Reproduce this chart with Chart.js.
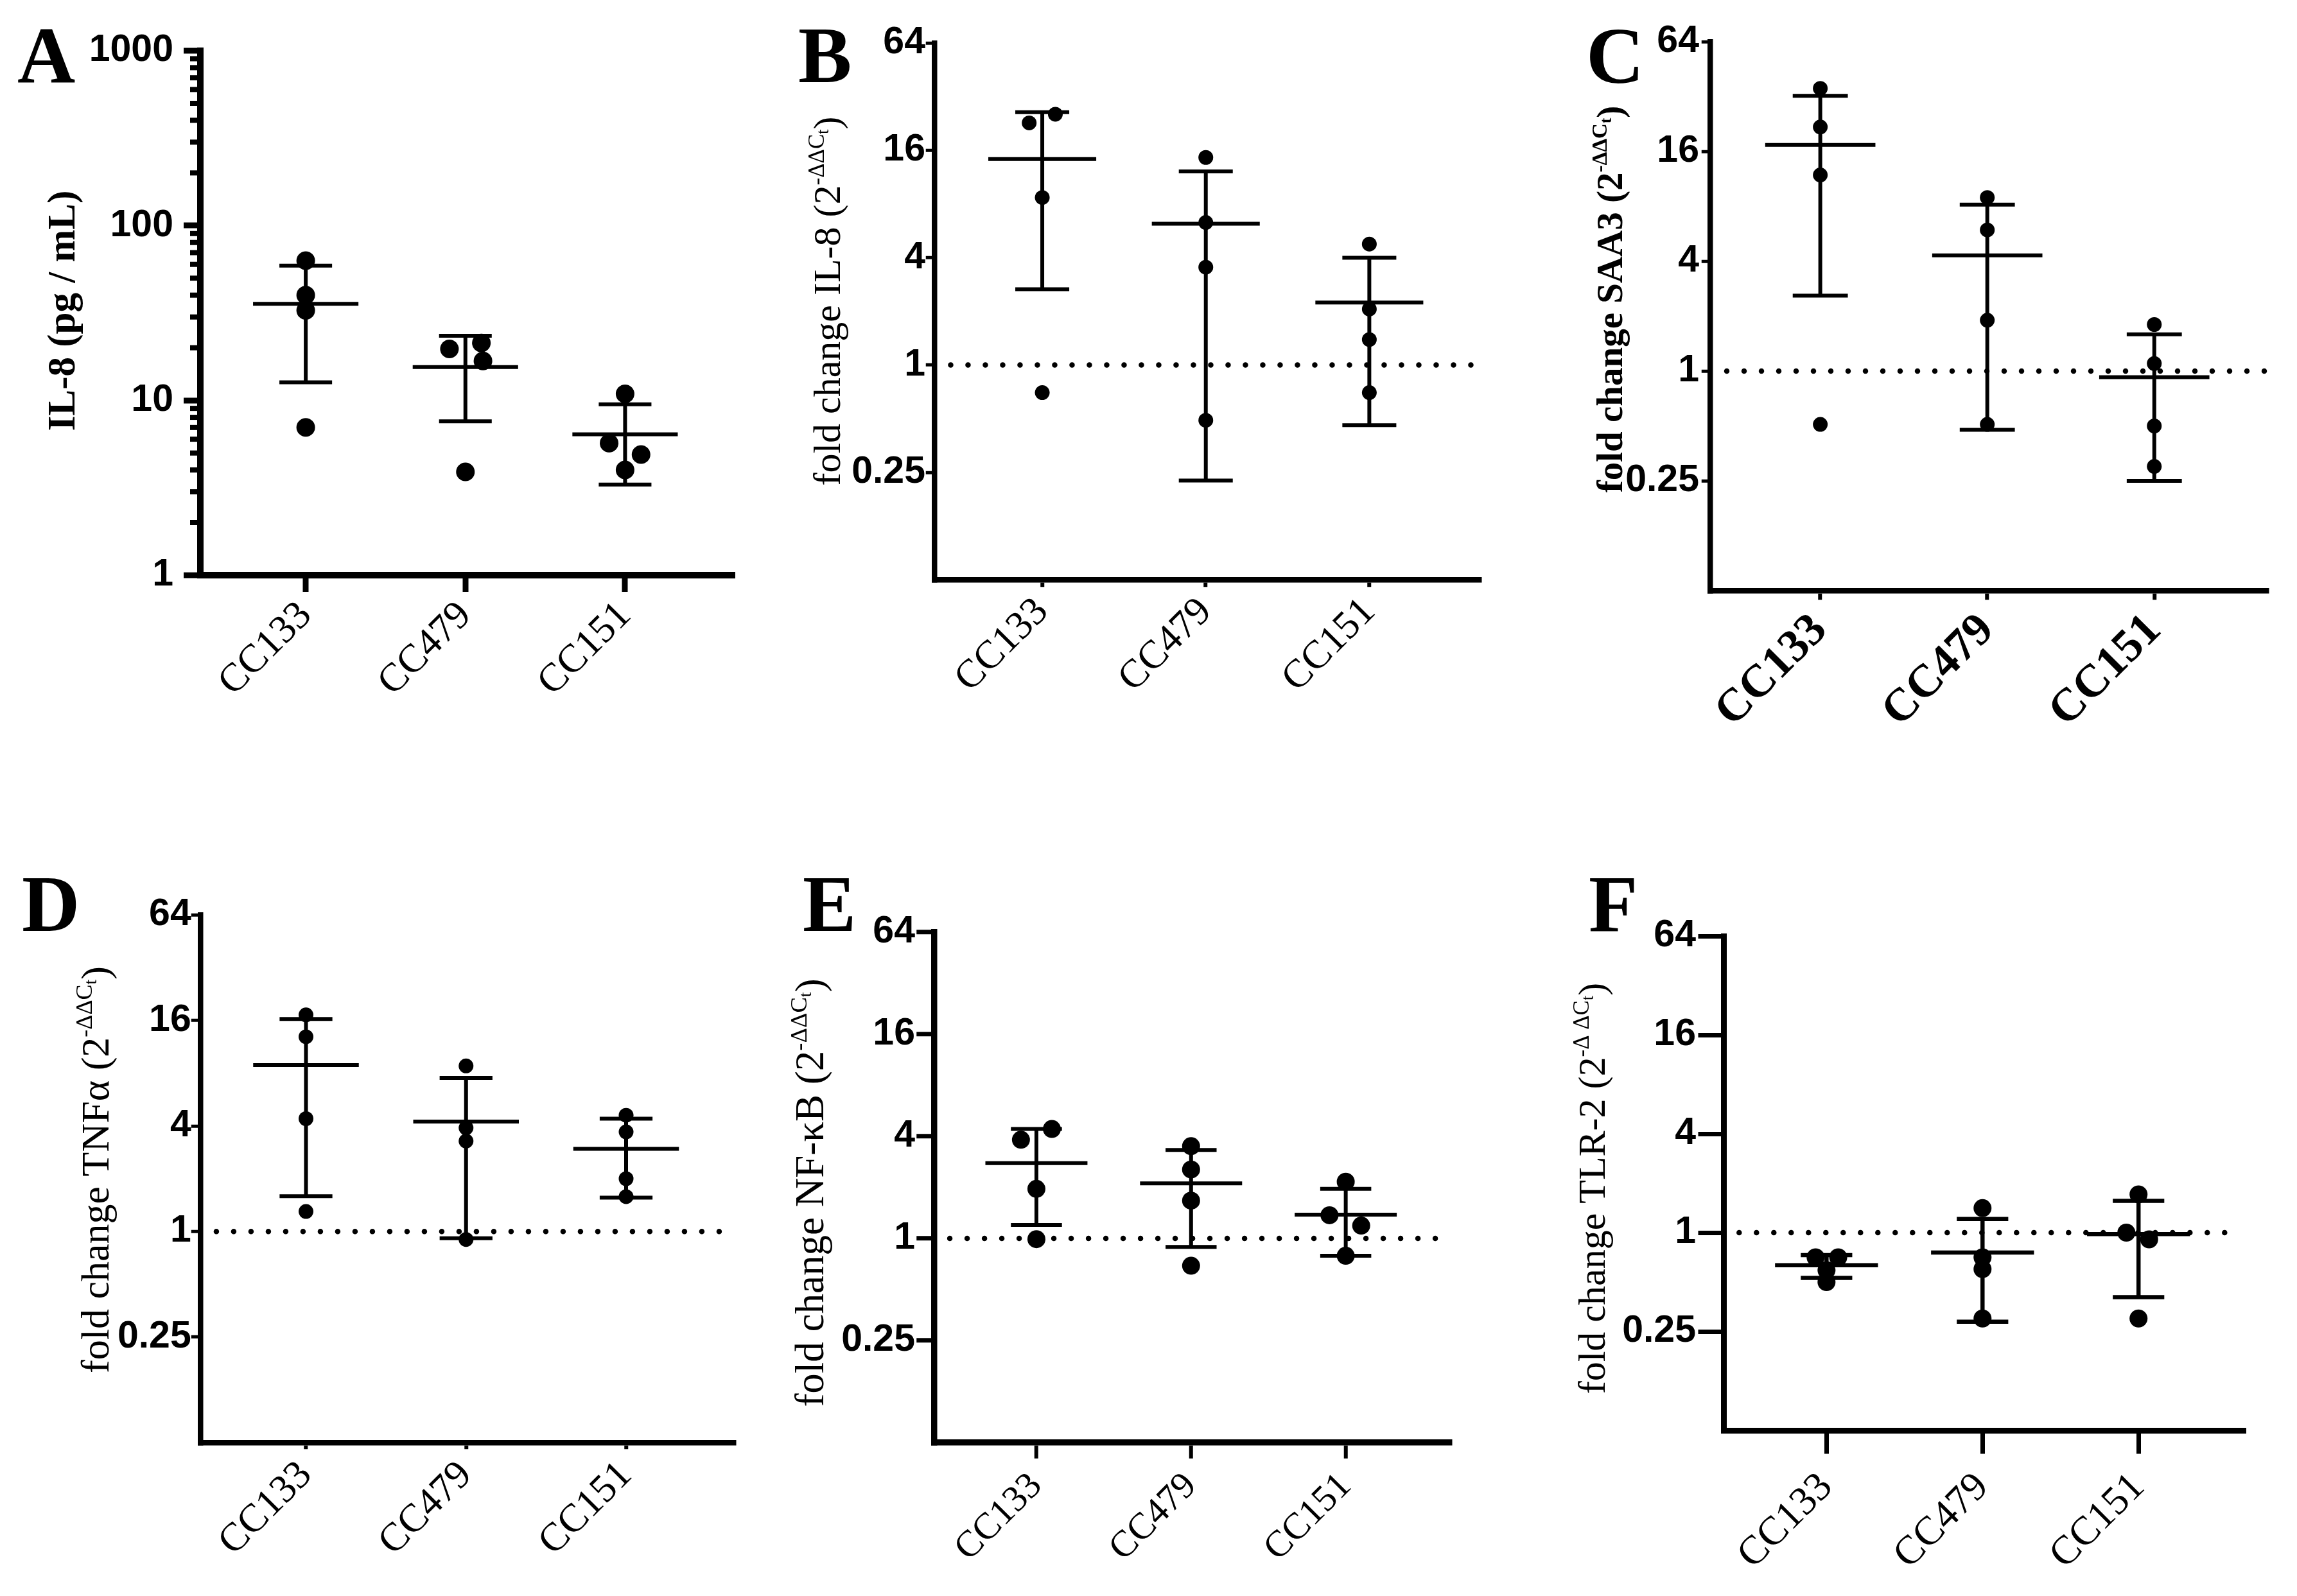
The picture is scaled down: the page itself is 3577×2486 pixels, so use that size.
<!DOCTYPE html>
<html>
<head>
<meta charset="utf-8">
<script src="https://cdn.jsdelivr.net/npm/chart.js@4.4.1/dist/chart.umd.min.js"></script>
<style>
  html, body { margin: 0; padding: 0; background: #fff; }
  #figure { position: relative; width: 3577px; height: 2486px; background: #fff; overflow: hidden; }
  #figure canvas { position: absolute; }
</style>
</head>
<body>
<div id="figure"></div>
<script>
// groups, same in every panel
const categories = ['CC133', 'CC479', 'CC151'];

// A: IL-8 protein, pg/mL (4 replicates per group)
const il8Protein = [[63, 40, 32.7, 7.0], [19.7, 21.3, 16.8, 3.9], [10.9, 5.7, 4.9, 4.0]];
const il8ProteinMean = [35.7, 15.5, 6.4];
const il8ProteinUpper = [59, 23.4, 9.5];
const il8ProteinLower = [12.7, 7.6, 3.3];

// B: IL-8 fold change
const il8Fold = [[22.8, 25.5, 8.7, 0.70], [14.6, 6.3, 3.54, 0.49], [4.77, 2.06, 1.39, 0.70]];
const il8FoldMean = [14.3, 6.2, 2.24];
const il8FoldUpper = [26.2, 12.2, 4.0];
const il8FoldLower = [2.66, 0.225, 0.46];

// C: SAA3 fold change
const saa3Fold = [[35.5, 21.8, 11.9, 0.51], [8.95, 5.94, 1.90, 0.51], [1.80, 1.10, 0.50, 0.30]];
const saa3FoldMean = [17.4, 4.31, 0.926];
const saa3FoldUpper = [32.3, 8.18, 1.59];
const saa3FoldLower = [2.59, 0.476, 0.25];

// D: TNFa fold change
const tnfFold = [[17.2, 12.9, 4.4, 1.30], [8.8, 3.9, 3.28, 0.90], [4.6, 3.7, 2.0, 1.58]];
const tnfFoldMean = [8.9, 4.24, 2.96];
const tnfFoldUpper = [16.3, 7.52, 4.4];
const tnfFoldLower = [1.59, 0.915, 1.56];

// E: NF-kB fold change
const nfkbFold = [[3.82, 4.42, 1.96, 0.99], [3.5, 2.55, 1.67, 0.69], [2.16, 1.37, 1.19, 0.79]];
const nfkbFoldMean = [2.78, 2.11, 1.38];
const nfkbFoldUpper = [4.42, 3.32, 1.96];
const nfkbFoldLower = [1.2, 0.89, 0.79];

// F: TLR-2 fold change
const tlr2Fold = [[0.707, 0.707, 0.59, 0.50], [1.41, 0.707, 0.60, 0.30], [1.71, 1.0, 0.91, 0.30]];
const tlr2FoldMean = [0.633, 0.757, 0.98];
const tlr2FoldUpper = [0.73, 1.21, 1.56];
const tlr2FoldLower = [0.53, 0.287, 0.405];

// axis ticks
const proteinTicks = [1, 10, 100, 1000];
const proteinTickLabels = ['1', '10', '100', '1000'];
const proteinMinorTicks = [2, 3, 4, 5, 6, 7, 8, 9, 20, 30, 40, 50, 60, 70, 80, 90, 200, 300, 400, 500, 600, 700, 800, 900];
const foldTicks = [0.25, 1, 4, 16, 64];
const foldTickLabels = ['0.25', '1', '4', '16', '64'];
const foldBaseline = 1;

const serif = '"Liberation Serif", "Times New Roman", serif';
const sans = '"Liberation Sans", Arial, sans-serif';
const MEAN_HALF = 0.33;
const CAP_HALF = 0.165;

const sup = (main) => [[main, 1, 0], ['-\u0394\u0394C', 0.58, 0.42], ['t', 0.45, 0.3], [')', 1, 0]];

const panels = [
  {
    letter: 'A', letterPos: [27, 128],
    rect: { x: 0, y: 0, w: 1200, h: 1243 }, plot: { l: 312, r: 1140, t: 79, b: 896 },
    yMin: 1, yMax: 1000, ticks: proteinTicks, tickLabels: proteinTickLabels, minor: proteinMinorTicks,
    values: il8Protein, mean: il8ProteinMean, upper: il8ProteinUpper, lower: il8ProteinLower, baseline: false,
    jitter: [[0, 0, 0, 0], [-0.1, 0.1, 0.11, 0], [0, -0.1, 0.1, 0]],
    border: 10, yTick: { len: 21, width: 9 }, yLabelGap: 42, xTick: { len: 21, width: 9 }, xLabelDrop: 27,
    radius: 14.5, barWidth: 6, catFont: { size: 62, weight: 'normal' },
    title: { x: 116, y: 484, size: 61, bold: true, parts: [['IL-8 (pg / mL)', 1, 0]] }
  },
  {
    letter: 'B', letterPos: [1243, 128],
    rect: { x: 1200, y: 0, w: 1200, h: 1243 }, plot: { l: 1455, r: 2303, t: 67, b: 903 },
    yMin: 0.0625, yMax: 64, ticks: foldTicks, tickLabels: foldTickLabels,
    values: il8Fold, mean: il8FoldMean, upper: il8FoldUpper, lower: il8FoldLower, baseline: true,
    jitter: [[-0.08, 0.08, 0, 0], [0, 0, 0, 0], [0, 0, 0, 0]],
    border: 8.5, yTick: { len: 9, width: 5 }, yLabelGap: 14, xTick: { len: 7, width: 6 }, xLabelDrop: 14,
    radius: 11.5, barWidth: 6, catFont: { size: 62, weight: 'normal' },
    title: { x: 1308, y: 469, size: 60, bold: false, parts: sup('fold change IL-8 (2') }
  },
  {
    letter: 'C', letterPos: [2470, 129],
    rect: { x: 2400, y: 0, w: 1177, h: 1243 }, plot: { l: 2663, r: 3529, t: 65, b: 920 },
    yMin: 0.0625, yMax: 64, ticks: foldTicks, tickLabels: foldTickLabels,
    values: saa3Fold, mean: saa3FoldMean, upper: saa3FoldUpper, lower: saa3FoldLower, baseline: true,
    jitter: [[0, 0, 0, 0], [0, 0, 0, 0], [0, 0, 0, 0]],
    border: 8.5, yTick: { len: 9, width: 5 }, yLabelGap: 17, xTick: { len: 10, width: 6 }, xLabelDrop: 20,
    radius: 11.5, barWidth: 6, catFont: { size: 72, weight: 'bold' },
    title: { x: 2526, y: 466, size: 57, bold: true, parts: sup('fold change SAA3 (2') }
  },
  {
    letter: 'D', letterPos: [34, 1450],
    rect: { x: 0, y: 1243, w: 1200, h: 1243 }, plot: { l: 312, r: 1142, t: 1425, b: 2247 },
    yMin: 0.0625, yMax: 64, ticks: foldTicks, tickLabels: foldTickLabels,
    values: tnfFold, mean: tnfFoldMean, upper: tnfFoldUpper, lower: tnfFoldLower, baseline: true,
    jitter: [[0, 0, 0, 0], [0, 0, 0, 0], [0, 0, 0, 0]],
    border: 8.5, yTick: { len: 10, width: 5 }, yLabelGap: 14, xTick: { len: 6, width: 6 }, xLabelDrop: 15,
    radius: 11.5, barWidth: 6, catFont: { size: 62, weight: 'normal' },
    title: { x: 169, y: 1822, size: 62, bold: false, parts: sup('fold change TNF\u03b1 (2') }
  },
  {
    letter: 'E', letterPos: [1250, 1450],
    rect: { x: 1200, y: 1243, w: 1200, h: 1243 }, plot: { l: 1455, r: 2257, t: 1452, b: 2247 },
    yMin: 0.0625, yMax: 64, ticks: foldTicks, tickLabels: foldTickLabels,
    values: nfkbFold, mean: nfkbFoldMean, upper: nfkbFoldUpper, lower: nfkbFoldLower, baseline: true,
    jitter: [[-0.1, 0.1, 0, 0], [0, 0, 0, 0], [0, -0.105, 0.1, 0]],
    border: 9.5, yTick: { len: 23, width: 7 }, yLabelGap: 30, xTick: { len: 20, width: 6 }, xLabelDrop: 34,
    radius: 14, barWidth: 6, catFont: { size: 58, weight: 'normal' },
    title: { x: 1282, y: 1858, size: 63, bold: false, parts: sup('fold change NF-\u03baB (2') }
  },
  {
    letter: 'F', letterPos: [2474, 1450],
    rect: { x: 2400, y: 1243, w: 1177, h: 1243 }, plot: { l: 2684, r: 3493, t: 1458, b: 2228 },
    yMin: 0.0625, yMax: 64, ticks: foldTicks, tickLabels: foldTickLabels,
    values: tlr2Fold, mean: tlr2FoldMean, upper: tlr2FoldUpper, lower: tlr2FoldLower, baseline: true,
    jitter: [[-0.07, 0.075, 0, 0], [0, 0, 0, 0], [0, -0.078, 0.068, 0]],
    border: 9, yTick: { len: 35, width: 7 }, yLabelGap: 43, xTick: { len: 32, width: 7 }, xLabelDrop: 52,
    radius: 14, barWidth: 6.5, catFont: { size: 63, weight: 'normal' },
    title: { x: 2499, y: 1851, size: 60, bold: false,
      parts: [['fold change TLR-2 (2', 1, 0], ['-\u0394 \u0394C', 0.58, 0.42], ['t', 0.45, 0.3], [')', 1, 0]] }
  }
];

function segment(x1, y1, x2, y2, width) {
  return {
    type: 'line',
    data: [{ x: x1, y: y1 }, { x: x2, y: y2 }],
    borderColor: '#000',
    borderWidth: width,
    borderCapStyle: 'butt',
    pointRadius: 0,
    fill: false,
    clip: false,
    order: 2
  };
}

function buildDatasets(p) {
  const sets = [];
  // scatter of replicates
  const pts = [];
  p.values.forEach((group, i) => {
    group.forEach((v, j) => pts.push({ x: i + 1 + p.jitter[i][j], y: v }));
  });
  sets.push({
    type: 'line', data: pts, showLine: false,
    pointRadius: p.radius, pointHoverRadius: p.radius,
    pointBackgroundColor: '#000', pointBorderWidth: 0, pointStyle: 'circle',
    clip: false, order: 0
  });
  // mean +/- SD
  p.mean.forEach((m, i) => {
    const x = i + 1;
    sets.push(segment(x - MEAN_HALF, m, x + MEAN_HALF, m, p.barWidth));
    sets.push(segment(x, p.lower[i], x, p.upper[i], p.barWidth));
    sets.push(segment(x - CAP_HALF, p.upper[i], x + CAP_HALF, p.upper[i], p.barWidth));
    sets.push(segment(x - CAP_HALF, p.lower[i], x + CAP_HALF, p.lower[i], p.barWidth));
  });
  // dotted line at fold change = 1
  if (p.baseline) {
    sets.push({
      type: 'line',
      data: [{ x: 0.44, y: foldBaseline }, { x: 3.66, y: foldBaseline }],
      borderColor: '#000', borderWidth: 8.5, borderDash: [0, 27], borderCapStyle: 'round',
      pointRadius: 0, fill: false, clip: false, order: 3
    });
  }
  return sets;
}

function decor(p) {
  return {
    id: 'decor' + p.letter,
    afterDraw(chart) {
      const ctx = chart.ctx;
      const ox = p.rect.x, oy = p.rect.y;
      ctx.save();
      ctx.fillStyle = '#000';
      ctx.strokeStyle = '#000';

      // minor ticks on the log10 axis
      if (p.minor) {
        const ys = chart.scales.y;
        const left = chart.chartArea.left - p.border / 2;
        ctx.lineWidth = 8;
        p.minor.forEach(v => {
          const py = ys.getPixelForValue(v);
          ctx.beginPath();
          ctx.moveTo(left - 11, py);
          ctx.lineTo(left, py);
          ctx.stroke();
        });
      }

      // panel letter
      ctx.font = 'bold 125px ' + serif;
      ctx.textAlign = 'left';
      ctx.textBaseline = 'alphabetic';
      ctx.fillText(p.letter, p.letterPos[0] - ox, p.letterPos[1] - oy);

      // y axis title, rotated, with superscript
      const t = p.title;
      const weight = t.bold ? 'bold ' : '';
      ctx.translate(t.x - ox, t.y - oy);
      ctx.rotate(-Math.PI / 2);
      let total = 0;
      t.parts.forEach(([txt, sc]) => {
        ctx.font = weight + (t.size * sc) + 'px ' + serif;
        total += ctx.measureText(txt).width;
      });
      let x = -total / 2;
      t.parts.forEach(([txt, sc, rise]) => {
        ctx.font = weight + (t.size * sc) + 'px ' + serif;
        ctx.fillText(txt, x, -rise * t.size);
        x += ctx.measureText(txt).width;
      });
      ctx.restore();
    }
  };
}

const figure = document.getElementById('figure');

panels.forEach(p => {
  const canvas = document.createElement('canvas');
  canvas.width = p.rect.w;
  canvas.height = p.rect.h;
  canvas.style.left = p.rect.x + 'px';
  canvas.style.top = p.rect.y + 'px';
  canvas.style.width = p.rect.w + 'px';
  canvas.style.height = p.rect.h + 'px';
  figure.appendChild(canvas);

  const yWidth = p.plot.l - p.rect.x;
  const xHeight = p.rect.y + p.rect.h - p.plot.b;
  const yTickLen = p.yTick.len + p.border / 2;
  const xTickLen = p.xTick.len + p.border / 2;

  new Chart(canvas, {
    type: 'line',
    data: { datasets: buildDatasets(p) },
    options: {
      responsive: false,
      animation: false,
      devicePixelRatio: 1,
      events: [],
      layout: {
        padding: { left: 0, right: p.rect.x + p.rect.w - p.plot.r, top: p.plot.t - p.rect.y, bottom: 0 }
      },
      plugins: { legend: { display: false }, tooltip: { enabled: false } },
      scales: {
        x: {
          type: 'linear',
          min: 0.34,
          max: 3.67,
          afterBuildTicks: s => { s.ticks = categories.map((c, i) => ({ value: i + 1 })); },
          afterFit: s => { s.height = xHeight; s.paddingLeft = 0; s.paddingRight = 0; },
          ticks: {
            autoSkip: false,
            minRotation: 45,
            maxRotation: 45,
            padding: Math.max(0, p.xLabelDrop - xTickLen),
            color: '#000',
            font: { family: serif, size: p.catFont.size, weight: p.catFont.weight },
            callback: v => categories[Math.round(v) - 1]
          },
          grid: {
            display: true, drawOnChartArea: false, drawTicks: true,
            tickLength: xTickLen, tickWidth: p.xTick.width, tickColor: '#000',
            lineWidth: p.border, color: '#000'
          },
          border: { display: true, width: p.border, color: '#000' }
        },
        y: {
          type: 'logarithmic',
          min: p.yMin,
          max: p.yMax,
          afterBuildTicks: s => { s.ticks = p.ticks.map(v => ({ value: v })); },
          afterFit: s => { s.width = yWidth; s.paddingTop = 0; s.paddingBottom = 0; },
          ticks: {
            autoSkip: false,
            padding: Math.max(0, p.yLabelGap - yTickLen),
            color: '#000',
            font: { family: sans, size: 59, weight: 'bold' },
            callback: v => p.tickLabels[p.ticks.indexOf(v)]
          },
          grid: {
            display: true, drawOnChartArea: false, drawTicks: true,
            tickLength: yTickLen, tickWidth: p.yTick.width, tickColor: '#000',
            lineWidth: p.border, color: '#000'
          },
          border: { display: true, width: p.border, color: '#000' }
        }
      }
    },
    plugins: [decor(p)]
  });
});
</script>
</body>
</html>
